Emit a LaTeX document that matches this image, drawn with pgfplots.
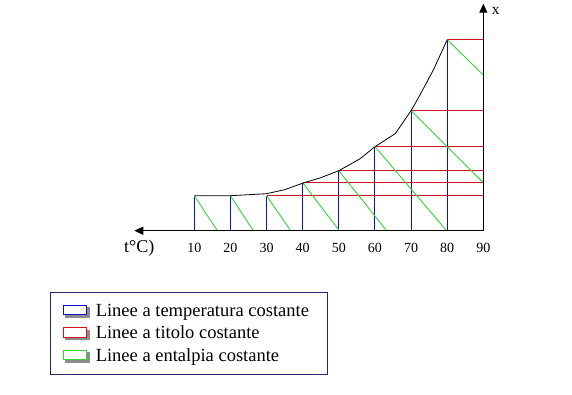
\documentclass[border=0pt]{standalone}
\usepackage{fontspec}
\setmainfont{Liberation Serif}
\usepackage{pgfplots}
\pgfplotsset{compat=1.18}
\usetikzlibrary{arrows.meta}
\definecolor{cblue}{RGB}{15,15,200}
\definecolor{cred}{RGB}{210,20,30}
\definecolor{cgreen}{RGB}{50,215,50}
\definecolor{cframe}{RGB}{45,35,110}
\begin{document}
\begin{tikzpicture}
\useasboundingbox (0,0) rectangle (572pt,395pt);
\begin{axis}[
  at={(122.08pt,164.3pt)}, anchor=south west,
  x=3.6125pt, y=1pt,
  xmin=-10, xmax=100, ymin=0, ymax=230,
  clip=false,
  axis line style={draw=none},
  tick style={draw=none},
  xtick={10,20,...,90}, ytick=\empty,
  /pgf/number format/assume math mode=true,
  xticklabel style={font=\fontsize{14}{14}\selectfont, anchor=base, yshift=-22.3pt, inner sep=0pt},
  tb/.style={cblue, line width=1pt, forget plot},
  tr/.style={cred, line width=1pt, forget plot},
  tg/.style={cgreen, line width=0.9pt, forget plot},
  legend cell align=left,
  legend style={at={(axis description cs:-0.18139,-0.26522)}, anchor=north west,
    draw=cframe, line width=0.9pt, fill=white, inner xsep=12.3pt, inner ysep=7.4pt,
    row sep=0pt, font=\fontsize{18.5}{18.5}\selectfont,
    nodes={inner sep=0pt, text height=16.6pt, text depth=5.9pt},
    /tikz/column sep=6pt},
  legend image code/.code={
    \fill[black!45] (2.5pt,-6.5pt) rectangle (26pt,3pt);
    \draw[#1,fill=white,line width=1.2pt] (0pt,-4pt) rectangle (23.5pt,5.5pt);
  },
]
% linee a temperatura costante
\addplot[tb] coordinates {(10,0) (10,35)};
\addplot[tb] coordinates {(20,0) (20,35)};
\addplot[tb] coordinates {(30,0) (30,35)};
\addplot[tb] coordinates {(40,0) (40,48)};
\addplot[tb] coordinates {(50,0) (50,60)};
\addplot[tb] coordinates {(60,0) (60,84)};
\addplot[tb] coordinates {(70,0) (70,120)};
\addplot[tb] coordinates {(80,0) (80,191)};
% linee a titolo costante
\addplot[tr] coordinates {(30,35) (90,35)};
\addplot[tr] coordinates {(40,48) (90,48)};
\addplot[tr] coordinates {(50,60) (90,60)};
\addplot[tr] coordinates {(60,84) (90,84)};
\addplot[tr] coordinates {(70,120) (90,120)};
\addplot[tr] coordinates {(80,191) (90,191)};
% linee a entalpia costante
\addplot[tg] coordinates {(10,35) (16.37,0)};
\addplot[tg] coordinates {(20,35) (26.33,0)};
\addplot[tg] coordinates {(30,35) (36.67,0)};
\addplot[tg] coordinates {(40,48) (50.14,0)};
\addplot[tg] coordinates {(50,60) (63.24,0)};
\addplot[tg] coordinates {(60,84) (79.85,0)};
\addplot[tg] coordinates {(70,120) (90,48)};
\addplot[tg] coordinates {(80,191) (90,155.7)};
% curva
\addplot[black, line width=0.8pt, forget plot] coordinates {
  (10,35) (20,35) (30,37) (35,41) (40,47.5) (45,53) (50,60) (55.9,72)
  (60,84) (65.6,97) (70,120) (72.5,136) (76.2,161) (80,191)
};
% assi
\addplot[black, line width=0.9pt, -{Triangle[length=9pt,width=8pt]}, forget plot]
  coordinates {(90,0) (-6.62,0)};
\addplot[black, line width=0.9pt, -{Triangle[length=9pt,width=8pt]}, forget plot]
  coordinates {(90,0) (90,227)};
\node[anchor=base west, inner sep=0pt, font=\fontsize{15.5}{15.5}\selectfont] at (axis cs:92.32,215.7) {x};
\node[anchor=base west, inner sep=0pt, font=\fontsize{18}{18}\selectfont] at (axis cs:-9.47,-21.8) {t°C)};
\addlegendimage{cblue}
\addlegendentry{Linee a temperatura costante\rule{6pt}{0pt}}
\addlegendimage{cred}
\addlegendentry{Linee a titolo costante}
\addlegendimage{cgreen}
\addlegendentry{Linee a entalpia costante}
\end{axis}
\end{tikzpicture}
\end{document}
